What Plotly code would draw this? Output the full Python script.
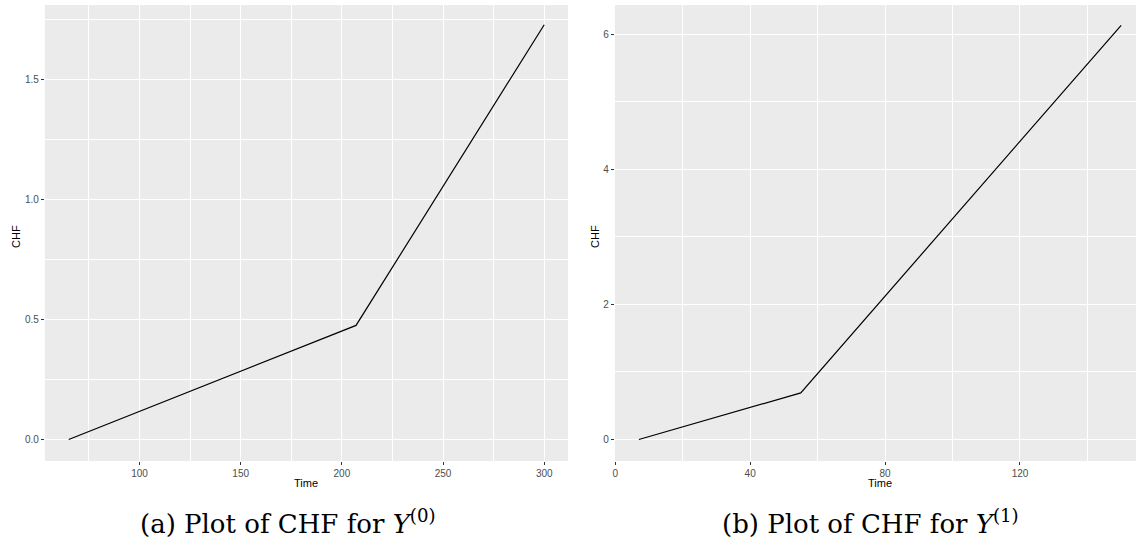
import plotly.graph_objects as go

# ---- data ----
time_y0 = [65, 207, 300]
chf_y0 = [0.0, 0.476, 1.73]
time_y1 = [7, 55, 150]
chf_y1 = [0.0, 0.69, 6.13]

x0_ticks = [100, 150, 200, 250, 300]
x0_minor = [75, 125, 175, 225, 275]
y0_ticks = [0.0, 0.5, 1.0, 1.5]
y0_labels = ["0.0", "0.5", "1.0", "1.5"]
y0_minor = [0.25, 0.75, 1.25, 1.75]
x1_ticks = [0, 40, 80, 120]
x1_minor = [20, 60, 100, 140]
y1_ticks = [0, 2, 4, 6]
y1_minor = [1, 3, 5]

caption_a = "(a) Plot of CHF for <i>Y</i><sup>(0)</sup>"
caption_b = "(b) Plot of CHF for <i>Y</i><sup>(1)</sup>"

W, H = 1136, 550
BG = "#EBEBEB"
TICKFONT = dict(family="Liberation Sans, Arial, sans-serif", size=10, color="#4D4D4D")
TITLEFONT = dict(family="Liberation Sans, Arial, sans-serif", size=11, color="black")
CAPFONT = dict(family="DejaVu Serif, serif", size=26, color="black")


def px_x(p):
    return p / W


def px_y(p):
    return 1 - p / H


fig = go.Figure()
fig.add_trace(go.Scatter(x=time_y0, y=chf_y0, mode="lines",
                         line=dict(color="black", width=1.2),
                         xaxis="x", yaxis="y", showlegend=False))
fig.add_trace(go.Scatter(x=time_y1, y=chf_y1, mode="lines",
                         line=dict(color="black", width=1.2),
                         xaxis="x2", yaxis="y2", showlegend=False))

axis_common = dict(showline=False, zeroline=False, showgrid=True,
                   gridcolor="white", gridwidth=1.1,
                   ticks="outside", ticklen=3, tickwidth=1, tickcolor="#333333",
                   tickfont=TICKFONT)


def minor(vals):
    return dict(tickmode="array", tickvals=vals, showgrid=True,
                gridcolor="white", gridwidth=0.55, ticks="")


fig.update_layout(
    width=W, height=H,
    margin=dict(l=0, r=0, t=0, b=0),
    paper_bgcolor="white", plot_bgcolor=BG,
    xaxis=dict(domain=[px_x(43), px_x(567)], range=[53.25, 311.75],
               tickmode="array", tickvals=x0_ticks, minor=minor(x0_minor),
               anchor="y", **axis_common),
    yaxis=dict(domain=[px_y(461), px_y(5)], range=[-0.0897, 1.8125],
               tickmode="array", tickvals=y0_ticks, ticktext=y0_labels,
               minor=minor(y0_minor), anchor="x", **axis_common),
    xaxis2=dict(domain=[px_x(614), 1.0], range=[-0.1, 154.4],
                tickmode="array", tickvals=x1_ticks, minor=minor(x1_minor),
                anchor="y2", **axis_common),
    yaxis2=dict(domain=[px_y(461), px_y(5)], range=[-0.318, 6.43],
                tickmode="array", tickvals=y1_ticks, minor=minor(y1_minor),
                anchor="x2", **axis_common),
)

annotations = [
    dict(text="Time", x=px_x(305), y=px_y(483), xref="paper", yref="paper",
         showarrow=False, font=TITLEFONT, xanchor="center", yanchor="middle"),
    dict(text="Time", x=px_x(880), y=px_y(483), xref="paper", yref="paper",
         showarrow=False, font=TITLEFONT, xanchor="center", yanchor="middle"),
    dict(text="CHF", x=px_x(14), y=px_y(236), xref="paper", yref="paper",
         showarrow=False, font=TITLEFONT, textangle=-90,
         xanchor="center", yanchor="middle"),
    dict(text="CHF", x=px_x(594), y=px_y(236), xref="paper", yref="paper",
         showarrow=False, font=TITLEFONT, textangle=-90,
         xanchor="center", yanchor="middle"),
    dict(text=caption_a, x=px_x(287), y=px_y(522), xref="paper", yref="paper",
         showarrow=False, xanchor="center", yanchor="middle", font=CAPFONT),
    dict(text=caption_b, x=px_x(870), y=px_y(522), xref="paper", yref="paper",
         showarrow=False, xanchor="center", yanchor="middle", font=CAPFONT),
]
fig.update_layout(annotations=annotations)

fig.write_html("out.html")
